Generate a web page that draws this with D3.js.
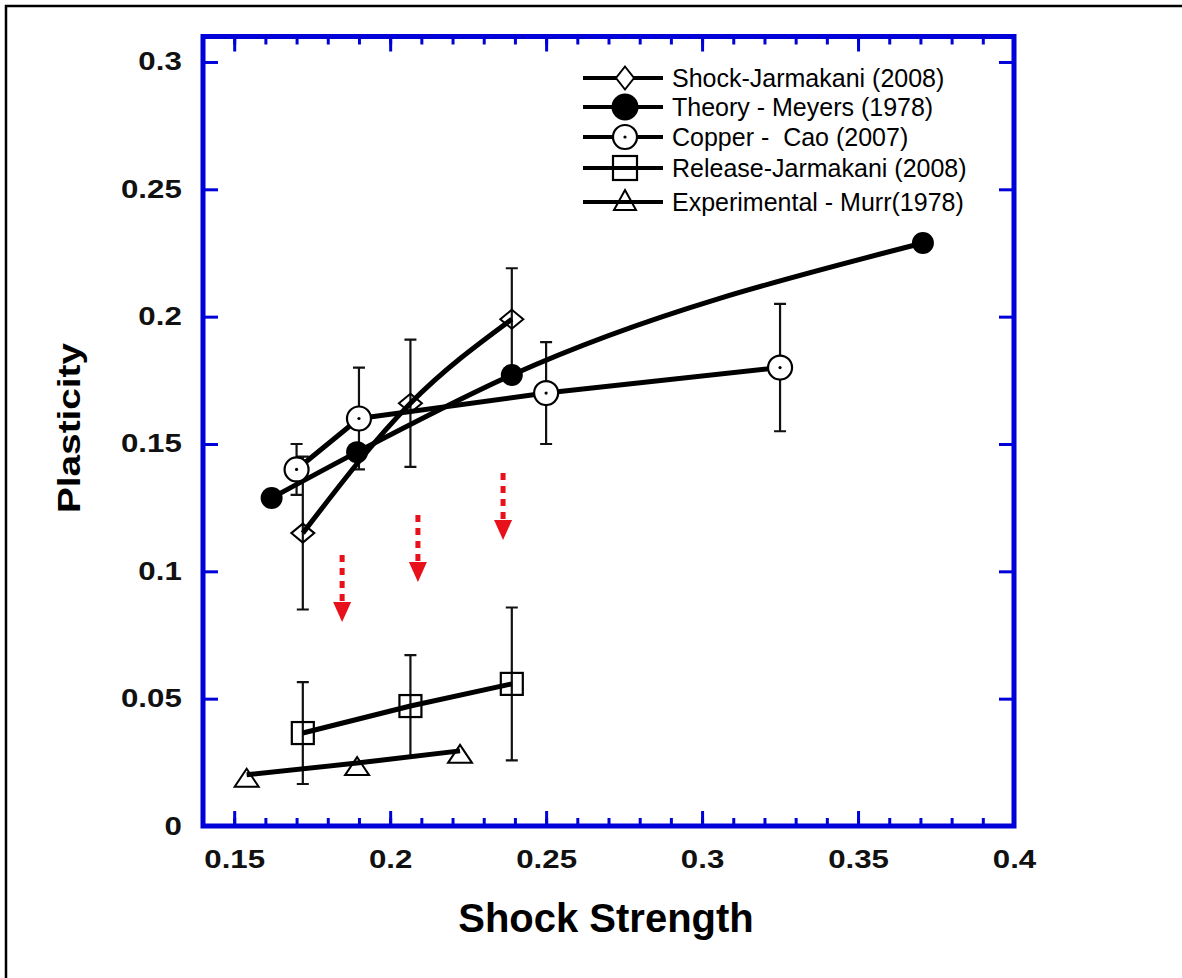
<!DOCTYPE html>
<html lang="en">
<head>
<meta charset="utf-8">
<title>Plasticity vs Shock Strength</title>
<script src="https://cdn.jsdelivr.net/npm/d3@7"></script>
<style>
  body { margin: 0; background: #fff; }
  svg text { font-family: "Liberation Sans", Arial, sans-serif; }
  .tick text { font-weight: bold; font-size: 25px; fill: #111; }
</style>
</head>
<body>
<script>
// axis ticks
var xTickValues = [0.15, 0.2, 0.25, 0.3, 0.35, 0.4];
var xTickLabels = ["0.15", "0.2", "0.25", "0.3", "0.35", "0.4"];
var yTickValues = [0, 0.05, 0.1, 0.15, 0.2, 0.25, 0.3];
var yTickLabels = ["0", "0.05", "0.1", "0.15", "0.2", "0.25", "0.3"];

// series
var shockX = [0.172, 0.2065, 0.239];
var shockY = [0.115, 0.166, 0.199];
var shockErr = [0.03, 0.025, 0.02];

var meyersX = [0.162, 0.1894, 0.239, 0.3708];
var meyersY = [0.1288, 0.1468, 0.1771, 0.2289];

var copperX = [0.17, 0.19, 0.25, 0.325];
var copperY = [0.14, 0.16, 0.17, 0.18];
var copperErr = [0.01, 0.02, 0.02, 0.025];

var releaseX = [0.172, 0.2065, 0.239];
var releaseY = [0.0365, 0.0471, 0.0558];
var releaseErr = [0.02, 0.02, 0.03];

var murrX = [0.154, 0.1894, 0.2224];
var murrY = [0.0201, 0.0247, 0.0295];

// red arrows (x, top of dashes, tip)
var arrowX = [0.1846, 0.2089, 0.2362];
var arrowTop = [0.1064, 0.1221, 0.1386];
var arrowTip = [0.0801, 0.0958, 0.1123];

var legendNames = [
  "Shock-Jarmakani (2008)",
  "Theory - Meyers (1978)",
  "Copper -  Cao (2007)",
  "Release-Jarmakani (2008)",
  "Experimental - Murr(1978)"
];

var w = 1182, h = 978;
var padLeft = 203, padRight = 1014, padTop = 36.5, padBottom = 826;
var blue = "#0000d8";

var svg = d3.select("body").append("svg")
  .attr("width", w).attr("height", h);

svg.append("rect").attr("width", w).attr("height", h).attr("fill", "#fff");

// outer border (top and left only)
svg.append("path")
  .attr("d", "M6," + h + "V6H" + w)
  .attr("fill", "none").attr("stroke", "#000").attr("stroke-width", 2.5);

var xScale = d3.scaleLinear().domain([0.14, 0.4]).range([padLeft, padRight]);
var yScale = d3.scaleLinear().domain([0, 0.31]).range([padBottom, padTop]);

function styleAxis(g) {
  g.select(".domain").remove();
  g.selectAll(".tick line").attr("stroke", blue).attr("stroke-width", 3);
}

// minor x ticks, bottom and top
var minor = d3.range(0.15, 0.395, 0.01);
svg.append("g").attr("transform", "translate(0," + padBottom + ")")
  .call(d3.axisBottom(xScale).tickValues(minor).tickSize(-8).tickFormat(""))
  .call(styleAxis);
svg.append("g").attr("transform", "translate(0," + padTop + ")")
  .call(d3.axisTop(xScale).tickValues(minor).tickSize(-8).tickFormat(""))
  .call(styleAxis);

// major x ticks
svg.append("g").attr("transform", "translate(0," + padBottom + ")")
  .call(d3.axisBottom(xScale).tickValues(xTickValues).tickSize(-15).tickPadding(24)
    .tickFormat(function(d, i) { return xTickLabels[i]; }))
  .call(styleAxis)
  .selectAll(".tick text").attr("transform", "scale(1.25,1)");
svg.append("g").attr("transform", "translate(0," + padTop + ")")
  .call(d3.axisTop(xScale).tickValues(xTickValues).tickSize(-15).tickFormat(""))
  .call(styleAxis);

// y ticks
svg.append("g").attr("transform", "translate(" + padLeft + ",0)")
  .call(d3.axisLeft(yScale).tickValues(yTickValues).tickSize(-15).tickPadding(17)
    .tickFormat(function(d, i) { return yTickLabels[i]; }))
  .call(styleAxis)
  .selectAll(".tick text").attr("transform", "scale(1.25,1)");
svg.append("g").attr("transform", "translate(" + padRight + ",0)")
  .call(d3.axisRight(yScale).tickValues(yTickValues).tickSize(-15).tickFormat(""))
  .call(styleAxis);

// frame
svg.append("rect")
  .attr("x", padLeft).attr("y", padTop)
  .attr("width", padRight - padLeft).attr("height", padBottom - padTop)
  .attr("fill", "none").attr("stroke", blue).attr("stroke-width", 5);

// axis titles
svg.append("text")
  .attr("x", 606).attr("y", 932)
  .attr("text-anchor", "middle")
  .attr("font-size", 40).attr("font-weight", "bold")
  .text("Shock Strength");

svg.append("text")
  .attr("transform", "translate(80,428) rotate(-90) scale(1.25,1)")
  .attr("text-anchor", "middle")
  .attr("font-size", 31).attr("font-weight", "bold")
  .text("Plasticity");

function zip(xs, ys, es) {
  return xs.map(function(x, i) { return { x: x, y: ys[i], e: es ? es[i] : 0 }; });
}

var shock = zip(shockX, shockY, shockErr);
var meyers = zip(meyersX, meyersY);
var copper = zip(copperX, copperY, copperErr);
var release = zip(releaseX, releaseY, releaseErr);
var murr = zip(murrX, murrY);

// error bars
function errorBars(data) {
  var g = svg.append("g").attr("stroke", "#111").attr("stroke-width", 2.2).attr("fill", "none");
  data.forEach(function(d) {
    var cx = xScale(d.x), y1 = yScale(d.y + d.e), y2 = yScale(d.y - d.e);
    g.append("path")
      .attr("d", "M" + cx + "," + y1 + "V" + y2 +
        "M" + (cx - 6) + "," + y1 + "H" + (cx + 6) +
        "M" + (cx - 6) + "," + y2 + "H" + (cx + 6));
  });
}
errorBars(shock);
errorBars(copper);
errorBars(release);

// data lines: smooth for shock and theory, straight segments for the rest
var smooth = d3.line()
  .x(function(d) { return xScale(d.x); })
  .y(function(d) { return yScale(d.y); })
  .curve(d3.curveMonotoneX);
var straight = d3.line()
  .x(function(d) { return xScale(d.x); })
  .y(function(d) { return yScale(d.y); });

[[shock, smooth], [meyers, smooth], [copper, straight], [release, straight], [murr, straight]]
  .forEach(function(s) {
    svg.append("path").datum(s[0])
      .attr("d", s[1])
      .attr("fill", "none").attr("stroke", "#000")
      .attr("stroke-width", 5).attr("stroke-linejoin", "round");
  });

// marker shapes
function diamondPath(hw, hh) { return "M0," + (-hh) + "L" + hw + ",0L0," + hh + "L" + (-hw) + ",0Z"; }
function trianglePath(hw, up, down) { return "M0," + (-up) + "L" + hw + "," + down + "L" + (-hw) + "," + down + "Z"; }

function drawDiamond(g, hw, hh) {
  g.append("path").attr("d", diamondPath(hw, hh)).attr("fill", "none")
    .attr("stroke", "#000").attr("stroke-width", 2);
}
function drawFilled(g, r) {
  g.append("circle").attr("r", r).attr("fill", "#000");
}
function drawCopper(g, r) {
  g.append("circle").attr("r", r).attr("fill", "#fff")
    .attr("stroke", "#000").attr("stroke-width", 2.2);
  g.append("circle").attr("r", 1.6).attr("fill", "#000");
}
function drawSquare(g, s) {
  g.append("rect").attr("x", -s / 2).attr("y", -s / 2).attr("width", s).attr("height", s)
    .attr("fill", "none").attr("stroke", "#000").attr("stroke-width", 2.2);
}
function drawTriangle(g, hw, up, down) {
  g.append("path").attr("d", trianglePath(hw, up, down)).attr("fill", "none")
    .attr("stroke", "#000").attr("stroke-width", 2);
}

function markers(data, draw) {
  data.forEach(function(d) {
    var g = svg.append("g")
      .attr("transform", "translate(" + xScale(d.x) + "," + yScale(d.y) + ")");
    draw(g);
  });
}
markers(shock, function(g) { drawDiamond(g, 11.5, 9.5); });
markers(meyers, function(g) { drawFilled(g, 11); });
markers(copper, function(g) { drawCopper(g, 12); });
markers(release, function(g) { drawSquare(g, 22); });
markers(murr, function(g) { drawTriangle(g, 12, 6, 12); });

// red dashed arrows
arrowX.forEach(function(ax, i) {
  var cx = xScale(ax), yt = yScale(arrowTop[i]), yp = yScale(arrowTip[i]);
  svg.append("line")
    .attr("x1", cx).attr("x2", cx).attr("y1", yt).attr("y2", yp - 20)
    .attr("stroke", "#e8101a").attr("stroke-width", 5)
    .attr("stroke-dasharray", "7,6");
  svg.append("path")
    .attr("d", "M" + (cx - 9) + "," + (yp - 20) + "H" + (cx + 9) + "L" + cx + "," + yp + "Z")
    .attr("fill", "#e8101a");
});

// legend
var legendY = [78, 107, 137, 168, 202];
var legendDraw = [
  function(g) { g.append("path").attr("d", diamondPath(9, 11.5)).attr("fill", "#fff").attr("stroke", "#000").attr("stroke-width", 2); },
  function(g) { drawFilled(g, 13.5); },
  function(g) { drawCopper(g, 12); },
  function(g) { drawSquare(g, 24); },
  function(g) { drawTriangle(g, 11, 12, 8); }
];
legendNames.forEach(function(name, i) {
  var y = legendY[i];
  svg.append("line")
    .attr("x1", 583).attr("x2", 663).attr("y1", y).attr("y2", y)
    .attr("stroke", "#000").attr("stroke-width", 4);
  var g = svg.append("g").attr("transform", "translate(625," + y + ")");
  legendDraw[i](g);
  svg.append("text")
    .attr("x", 672).attr("y", y).attr("dy", "0.36em")
    .attr("font-size", 25)
    .style("white-space", "pre")
    .text(name);
});
</script>
</body>
</html>
